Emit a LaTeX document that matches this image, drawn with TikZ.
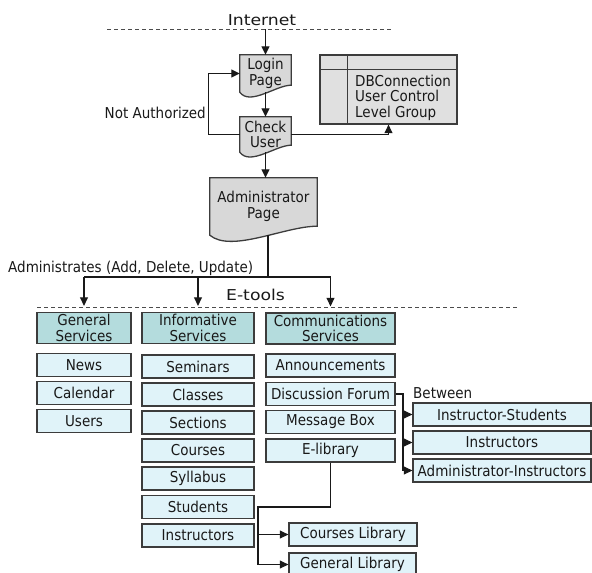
\documentclass[tikz,border=0pt]{standalone}
\usepackage{fontspec}
\setmainfont{DejaVu Sans}[FakeStretch=0.9]
\newfontfamily\widefont{DejaVu Sans}[FakeStretch=1.15]
\usetikzlibrary{arrows.meta,calc,backgrounds}
\definecolor{hdr}{HTML}{B4DCDD}
\definecolor{itm}{HTML}{E0F3F9}
\definecolor{docg}{HTML}{D8D8D8}
\definecolor{dbg}{HTML}{E0E0E0}
\definecolor{edge}{HTML}{3C3C3C}
\newcommand\docshape[2]{%
  \path[docline] (#1.north west) -- (#1.north east) -- ($(#1.south east)+(0,-#2)$)
    .. controls ($(#1.south east)!0.3!(#1.south west)+(0,-#2)$) and ($(#1.south west)!0.2!(#1.south east)+(0,2*#2)$) .. (#1.south west) -- cycle;}
\begin{document}
\begin{tikzpicture}[x=1pt,y=-1pt,
  every node/.style={font=\fontsize{15}{15.5}\selectfont, text=black!90},
  hdrbox/.style={draw=edge, line width=1.3pt, fill=hdr, align=center, inner sep=0pt, minimum height=31pt},
  itembox/.style={draw=edge, line width=1.3pt, fill=itm, inner sep=0pt, minimum height=23pt},
  docnode/.style={inner sep=0pt, align=center},
  conn/.style={line width=1.1pt, draw=black!90},
  arr/.style={conn, -{Triangle[length=8.5pt,width=8pt]}},
  docline/.style={draw=edge, line width=1.3pt, fill=docg},
  sep/.style={dash pattern=on 4pt off 3pt, line width=0.9pt, draw=black!70},
  widelabel/.style={font=\widefont\fontsize{15}{15}\selectfont},
]
\useasboundingbox (0,0) rectangle (592,573);

% separators and labels
\draw[sep] (107,29) -- (392,29);
\draw[sep] (37,307) -- (517,307);
\node[widelabel] (inet) at (262,20.5) {Internet};
\node[widelabel] (etools) at (255.5,294.5) {E-tools};

% document shapes
\node[docnode, minimum width=51pt, minimum height=37pt] (login) at (265.5,73.5) {Login\\Page};
\node[docnode, minimum width=51pt, minimum height=35pt] (check) at (265.5,134.5) {Check\\User};
\node[docnode, minimum width=107pt, minimum height=57pt] (admin) at (263.5,206.5) {Administrator\\Page};
\begin{pgfonlayer}{background}
  \docshape{login}{7}
  \docshape{check}{7}
  \docshape{admin}{9}
\end{pgfonlayer}

% DB box
\node[draw=edge, line width=1.3pt, fill=dbg, minimum width=137pt, minimum height=69pt, inner sep=0pt] (db) at (388.5,89.5) {};
\draw[draw=edge, line width=1.3pt] ($(db.north west)+(0,15)$) -- ($(db.north east)+(0,15)$);
\draw[draw=edge, line width=1.3pt] ($(db.north west)+(28,0)$) -- ($(db.south west)+(28,0)$);
\node[anchor=west, align=left, inner sep=0pt] (dbt) at (355,97.5) {DBConnection\\User Control\\Level Group};

% top connectors
\coordinate (inetpt) at (265.5,29);
\draw[arr] (inetpt) -- (login.north);
\draw[arr] (login.south) -- (check.north);
\draw[arr] (check.west) -- ++(-31,0) |- (login.west);
\node[anchor=east, inner sep=0pt] (notauth) at (206,112.5) {Not Authorized};
\draw[arr] (check.east) -| (db.south);
\draw[arr] (check.south) -- (check.south |- admin.north);

% services headers
\node[hdrbox, minimum width=94pt] (gen) at (84,328) {General\\Services};
\node[hdrbox, minimum width=112pt] (inf) at (198,328) {Informative\\Services};
\node[hdrbox, minimum width=129pt] (comm) at (330.5,328.5) {Communications\\Services};

\node[anchor=west, inner sep=0pt] (admlbl) at (8,268) {Administrates (Add, Delete, Update)};
\coordinate (hub) at (268,277);
\draw[conn] (hub |- admin.south) -- (hub);
\draw[conn] (gen.north |- hub) -- (comm.north |- hub);
\draw[arr, shorten >=6pt] (gen.north |- hub) -- (gen.north);
\draw[arr, shorten >=6pt] (inf.north |- hub) -- (inf.north);
\draw[arr, shorten >=6pt] (comm.north |- hub) -- (comm.north);

% general items
\node[itembox, minimum width=94pt] (news) at (84,365) {News};
\node[itembox, minimum width=94pt] (cal) at (84,393) {Calendar};
\node[itembox, minimum width=94pt] (users) at (84,421) {Users};

% informative items
\node[itembox, minimum width=112pt] (sem) at (198,366.5) {Seminars};
\node[itembox, minimum width=112pt] (cls) at (198,394.5) {Classes};
\node[itembox, minimum width=112pt] (sec) at (198,422.5) {Sections};
\node[itembox, minimum width=112pt] (crs) at (198,450.5) {Courses};
\node[itembox, minimum width=112pt] (syl) at (198,478.5) {Syllabus};
\node[itembox, minimum width=112pt] (stu) at (198,507) {Students};
\node[itembox, minimum width=112pt] (ins) at (198,535.5) {Instructors};

% communications items
\node[itembox, minimum width=129pt] (ann) at (330.5,365.5) {Announcements};
\node[itembox, minimum width=129pt] (df) at (330.5,394) {Discussion Forum};
\node[itembox, minimum width=129pt] (mb) at (330.5,422) {Message Box};
\node[itembox, minimum width=129pt] (el) at (330.5,450.5) {E-library};

% discussion forum targets
\node[anchor=west, inner sep=0pt] (betw) at (413,393) {Between};
\node[itembox, minimum width=178pt] (is) at (502,414.5) {Instructor-Students};
\node[itembox, minimum width=178pt] (in) at (502,442.5) {Instructors};
\node[itembox, minimum width=178pt] (ai) at (502,470.5) {Administrator-Instructors};
\coordinate (dfj) at (403,394);
\draw[conn] (df.east) -- (dfj) -- (dfj |- ai.west);
\draw[arr] (dfj |- is.west) -- (is.west);
\draw[arr] (dfj |- in.west) -- (in.west);
\draw[arr] (dfj |- ai.west) -- (ai.west);

% libraries
\node[itembox, minimum width=128pt] (clib) at (353,534.5) {Courses Library};
\node[itembox, minimum width=127pt] (glib) at (352.5,564.5) {General Library};
\coordinate (elj) at (258,507);
\draw[arr] (el.south) |- (elj) |- (glib.west);
\draw[arr] (elj |- clib.west) -- (clib.west);
\end{tikzpicture}
\end{document}
